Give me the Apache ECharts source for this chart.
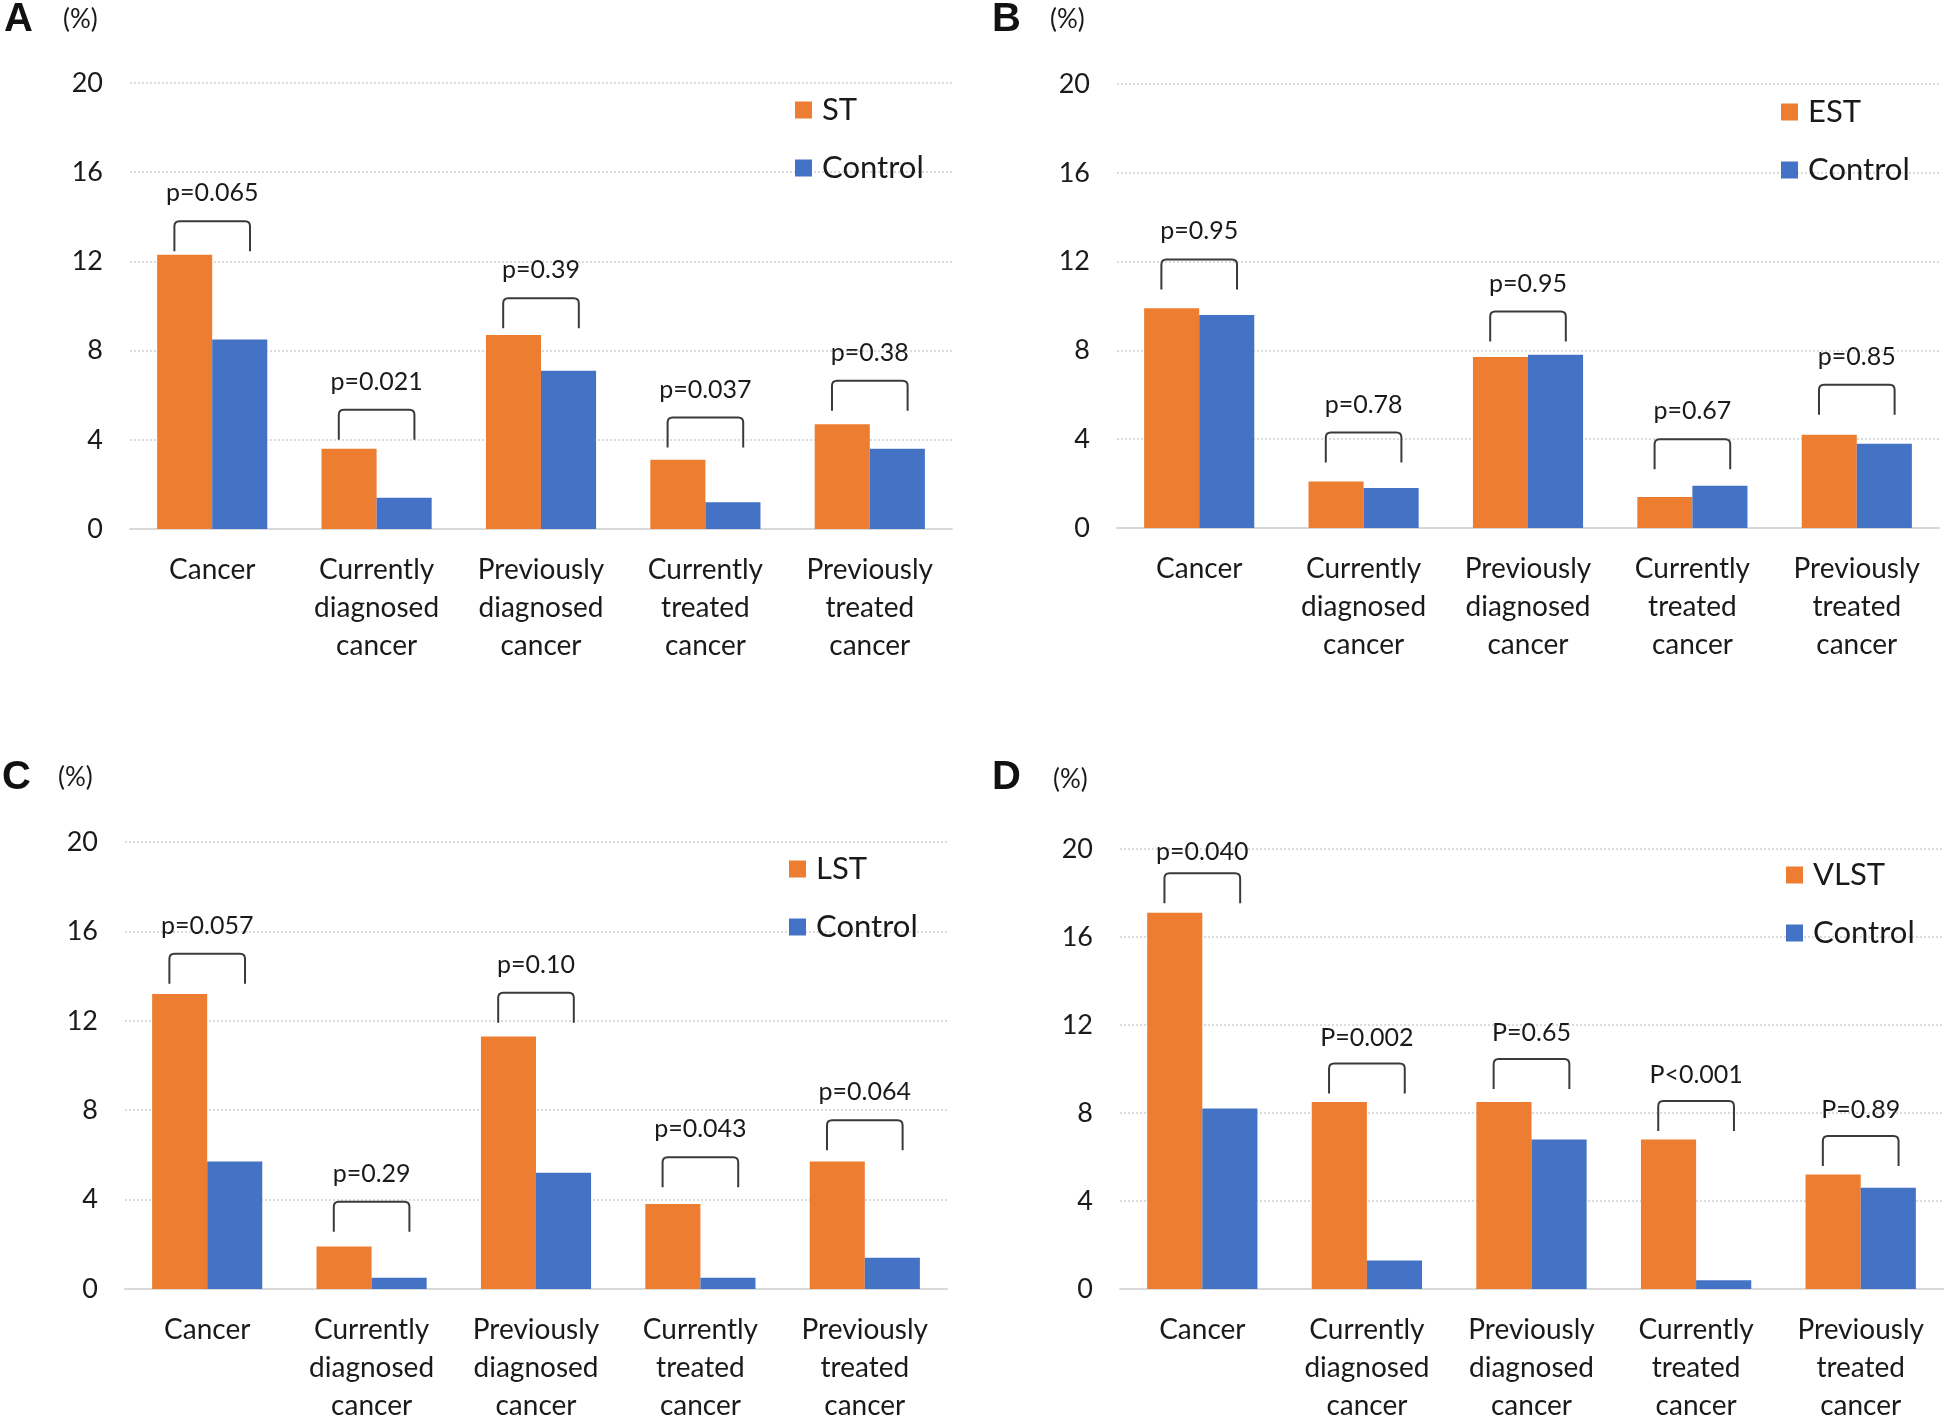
<!DOCTYPE html>
<html>
<head>
<meta charset="utf-8">
<script src="https://cdn.jsdelivr.net/npm/echarts@6/dist/echarts.min.js"></script>
<style>
html,body{margin:0;padding:0;background:#fff;}
#main{width:1944px;height:1425px;}
</style>
</head>
<body>
<div id="main"></div>
<script>
// ---- Data ----
const categories = ['Cancer', 'Currently\ndiagnosed\ncancer', 'Previously\ndiagnosed\ncancer', 'Currently\ntreated\ncancer', 'Previously\ntreated\ncancer'];
const yTicks = [0, 4, 8, 12, 16, 20];

const groupNames = ['ST', 'EST', 'LST', 'VLST'];
const panelLetters = ['A', 'B', 'C', 'D'];

const stValues   = [12.3, 3.6, 8.7, 3.1, 4.7];
const stControl  = [8.5, 1.4, 7.1, 1.2, 3.6];
const estValues  = [9.9, 2.1, 7.7, 1.4, 4.2];
const estControl = [9.6, 1.8, 7.8, 1.9, 3.8];
const lstValues  = [13.2, 1.9, 11.3, 3.8, 5.7];
const lstControl = [5.7, 0.5, 5.2, 0.5, 1.4];
const vlstValues = [17.1, 8.5, 8.5, 6.8, 5.2];
const vlstControl= [8.2, 1.3, 6.8, 0.4, 4.6];

const pA = ['p=0.065', 'p=0.021', 'p=0.39', 'p=0.037', 'p=0.38'];
const pB = ['p=0.95', 'p=0.78', 'p=0.95', 'p=0.67', 'p=0.85'];
const pC = ['p=0.057', 'p=0.29', 'p=0.10', 'p=0.043', 'p=0.064'];
const pD = ['p=0.040', 'P=0.002', 'P=0.65', 'P<0.001', 'P=0.89'];

// bracket heights (in % units)
const bracketA = [13.8, 5.35, 10.35, 5.0, 6.65];
const bracketB = [12.1, 4.3, 9.75, 4.0, 6.45];
const bracketC = [15.0, 3.9, 13.25, 5.9, 7.55];
const bracketD = [18.9, 10.25, 10.45, 8.55, 6.95];

// ---- Layout / style ----
const FONT = 'Lato';
const ORANGE = '#ED7D31';
const BLUE = '#4472C4';
const TXT = '#1a1a1a';

const panels = [
  {grid:{left:130, right:992, top:83, bottom:896}, legend:{left:795, top:93}, letter:[4, 0], pct:[63, 7], labGap:[28,28,28,28,28],
   vals:stValues, ctrl:stControl, p:pA, br:bracketA},
  {grid:{left:1117, right:5, top:84, bottom:897}, legend:{left:1781, top:95}, letter:[992, 0], pct:[1050, 7], labGap:[28,28,28,28,28],
   vals:estValues, ctrl:estControl, p:pB, br:bracketB},
  {grid:{left:125, right:997, top:842, bottom:134}, legend:{left:789, top:852}, letter:[2, 758], pct:[58, 765], labGap:[28,28,28,28,28],
   vals:lstValues, ctrl:lstControl, p:pC, br:bracketC},
  {grid:{left:1120, right:1, top:849, bottom:128}, legend:{left:1786, top:858}, letter:[992, 758], pct:[1053, 767], labGap:[21,26,26,26,26],
   vals:vlstValues, ctrl:vlstControl, p:pD, br:bracketD}
];

function bracketRenderer(labels, gaps) {
  return function (params, api) {
    const c = api.coord([api.value(0), api.value(1)]);
    const band = api.size([1, 0])[0];
    const x0 = c[0] - band * 0.23, x1 = c[0] + band * 0.23, y = c[1];
    const leg = 30, r = 5;
    const d = 'M' + x0 + ' ' + (y + leg) + ' L' + x0 + ' ' + (y + r) + ' Q' + x0 + ' ' + y + ' ' + (x0 + r) + ' ' + y +
              ' L' + (x1 - r) + ' ' + y + ' Q' + x1 + ' ' + y + ' ' + x1 + ' ' + (y + r) + ' L' + x1 + ' ' + (y + leg);
    return {
      type: 'group',
      children: [
        {type: 'path', shape: {pathData: d}, style: {stroke: '#3a3a3a', lineWidth: 2, fill: 'none'}},
        {type: 'text', style: {text: labels[params.dataIndex], x: c[0], y: y - gaps[params.dataIndex], align: 'center', verticalAlign: 'middle',
          font: '25px ' + FONT, fill: TXT}}
      ]
    };
  };
}

const option = {
  backgroundColor: '#fff',
  animation: false,
  grid: [], xAxis: [], yAxis: [], series: [], legend: [], graphic: []
};

panels.forEach(function (pn, i) {
  option.grid.push(pn.grid);
  option.xAxis.push({
    type: 'category', gridIndex: i, data: categories,
    axisLine: {lineStyle: {color: '#D9D9D9', width: 2}},
    axisTick: {show: false},
    axisLabel: {color: TXT, fontFamily: FONT, fontSize: 28, lineHeight: 38, margin: 22, interval: 0}
  });
  option.yAxis.push({
    type: 'value', gridIndex: i, min: yTicks[0], max: yTicks[yTicks.length - 1], interval: yTicks[1] - yTicks[0],
    axisLine: {show: false}, axisTick: {show: false},
    axisLabel: {color: TXT, fontFamily: FONT, fontSize: 27, margin: 27},
    splitLine: {lineStyle: {color: '#D0D0D0', type: [2, 2], width: 1.5}}
  });
  option.series.push({
    name: groupNames[i], type: 'bar', xAxisIndex: i, yAxisIndex: i, data: pn.vals,
    itemStyle: {color: ORANGE}, barGap: '0%', barCategoryGap: '33%'
  });
  option.series.push({
    name: 'Control', type: 'bar', xAxisIndex: i, yAxisIndex: i, data: pn.ctrl,
    itemStyle: {color: BLUE}, barGap: '0%', barCategoryGap: '33%'
  });
  option.series.push({
    type: 'custom', xAxisIndex: i, yAxisIndex: i, silent: true,
    data: pn.br.map(function (v, k) { return [k, v]; }),
    renderItem: bracketRenderer(pn.p, pn.labGap), z: 5
  });
  option.legend.push({
    data: [groupNames[i], 'Control'], orient: 'vertical', left: pn.legend.left, top: pn.legend.top,
    padding: 0, itemWidth: 17, itemHeight: 17, itemGap: 24, icon: 'rect', selectedMode: false,
    textStyle: {color: TXT, fontFamily: FONT, fontSize: 31, lineHeight: 34, padding: [0, 0, 0, 5]}
  });
  option.graphic.push({type: 'text', left: pn.letter[0], top: pn.letter[1],
    style: {text: panelLetters[i], font: 'bold 40px "Liberation Sans"', fill: '#111'}});
  option.graphic.push({type: 'text', left: pn.pct[0], top: pn.pct[1],
    style: {text: '(%)', font: '26px ' + FONT, fill: TXT}});
});

const chart = echarts.init(document.getElementById('main'), null, {renderer: 'canvas'});
chart.setOption(option);
</script>
</body>
</html>
